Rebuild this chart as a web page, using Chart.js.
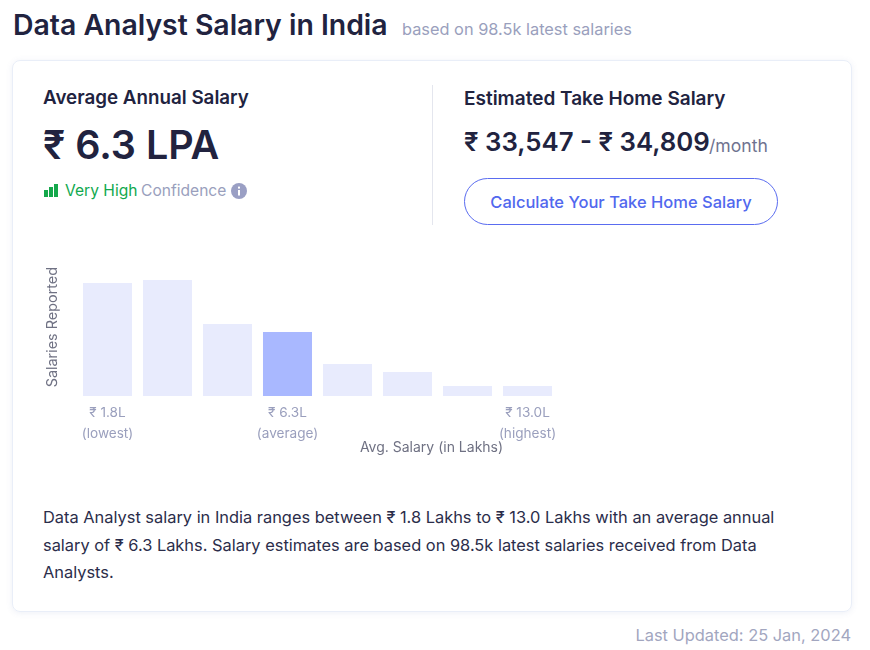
<!DOCTYPE html>
<html>
<head>
<meta charset="utf-8">
<script src="https://cdn.jsdelivr.net/npm/chart.js@4"></script>
<style>
  html, body { margin: 0; padding: 0; background: #fff; width: 870px; height: 650px; overflow: hidden; font-family: Inter, sans-serif; color: #21233f; }
  .t { position: absolute; white-space: nowrap; line-height: 1; }
  .card { position: absolute; left: 12px; top: 60px; width: 838px; height: 550px; border: 1px solid #e9eef8; border-radius: 8px; box-shadow: 0 1px 6px rgba(90,110,180,.10); }
  .divider { position: absolute; left: 432px; top: 85px; width: 1px; height: 140px; background: #e4e6ee; }
  .btn { position: absolute; left: 464px; top: 178px; width: 312px; height: 45px; border: 1px solid #5a6cf0; border-radius: 24px; text-align: center; line-height: 46px; font-size: 16.5px; font-weight: 500; color: #5168ee; }
  #chart-wrap { position: absolute; left: 40px; top: 260px; width: 530px; height: 202px; }
</style>
</head>
<body>
<div class="t" style="left:13px;top:11px;font-size:28.4px;font-weight:600">Data Analyst Salary in India</div>
<div class="t" style="left:402px;top:21px;font-size:16.35px;color:#9a9fbd">based on 98.5k latest salaries</div>

<div class="card"></div>
<div class="divider"></div>

<div class="t" style="left:43px;top:89px;font-size:18.8px;font-weight:600">Average Annual Salary</div>
<div class="t" style="left:43px;top:126px;font-size:39.5px;font-weight:600">₹ 6.3 LPA</div>
<svg style="position:absolute;left:44px;top:184px" width="15" height="13">
  <rect x="0" y="6" width="4" height="7" fill="#14a84b"/><rect x="5" y="3" width="4" height="10" fill="#14a84b"/><rect x="10" y="0" width="4" height="13" fill="#14a84b"/>
</svg>
<div class="t" style="left:65px;top:183px;font-size:15.6px;color:#12a94f">Very High</div>
<div class="t" style="left:141px;top:183px;font-size:15.6px;color:#9a9fbd">Confidence</div>
<svg style="position:absolute;left:231px;top:183px" width="16" height="16">
  <circle cx="8" cy="8" r="8" fill="#9a9fc4"/><rect x="7" y="7" width="2" height="5.5" fill="#fff"/><rect x="7" y="3.6" width="2" height="2" fill="#fff"/>
</svg>

<div class="t" style="left:464px;top:89px;font-size:19px;font-weight:600">Estimated Take Home Salary</div>
<div class="t" style="left:464px;top:129px;font-size:25.8px;font-weight:600">₹ 33,547 - ₹ 34,809</div>
<div class="t" style="left:709px;top:137px;font-size:17.6px;color:#6f7390">/month</div>
<div class="btn">Calculate Your Take Home Salary</div>

<div id="chart-wrap"><canvas id="salary-chart"></canvas></div>

<div class="t" style="left:43px;top:504px;font-size:16.4px;line-height:27.7px;color:#2b2d4a">Data Analyst salary in India ranges between ₹ 1.8 Lakhs to ₹ 13.0 Lakhs with an average annual<br>salary of ₹ 6.3 Lakhs. Salary estimates are based on 98.5k latest salaries received from Data<br>Analysts.</div>
<div class="t" style="right:19px;top:627px;font-size:16.4px;color:#a2a6bf">Last Updated: 25 Jan, 2024</div>

<script>
// ── data ────────────────────────────────────────────────
const tickLabels = [
  ['₹ 1.8L', '(lowest)'], '', '',
  ['₹ 6.3L', '(average)'], '', '', '',
  ['₹ 13.0L', '(highest)']
];
const salariesReported = [113, 116, 72, 64, 32, 24, 10, 10];
const averageIndex = 3;
const yAxisTitle = 'Salaries Reported';
const xAxisTitle = 'Avg. Salary (in Lakhs)';

// axis titles sit off-centre in the original, so they are drawn by hand
const offCentreTitles = {
  id: 'offCentreTitles',
  afterDraw(chart) {
    const { ctx, chartArea } = chart;
    ctx.save();
    ctx.fillStyle = '#6f7183';
    ctx.textAlign = 'center';
    ctx.textBaseline = 'middle';
    ctx.font = '400 14px Inter, sans-serif';
    ctx.fillText(xAxisTitle, chartArea.left + 354, chartArea.bottom + 52);
    ctx.font = '400 14.4px Inter, sans-serif';
    ctx.translate(chartArea.left - 25, chartArea.bottom - 69);
    ctx.rotate(-Math.PI / 2);
    ctx.fillText(yAxisTitle, 0, 0);
    ctx.restore();
  }
};

new Chart(document.getElementById('salary-chart'), {
  type: 'bar',
  data: {
    labels: tickLabels,
    datasets: [{
      data: salariesReported,
      backgroundColor: salariesReported.map((_, i) => i === averageIndex ? '#a9b8ff' : '#e8ebfd'),
      categoryPercentage: 1,
      barPercentage: 0.817
    }]
  },
  options: {
    responsive: true,
    maintainAspectRatio: false,
    animation: false,
    layout: { padding: { left: 37.5, right: 12.5, top: 20, bottom: 12 } },
    plugins: { legend: { display: false }, tooltip: { enabled: false } },
    scales: {
      x: {
        grid: { display: false, drawTicks: false },
        border: { display: false },
        ticks: {
          autoSkip: false,
          maxRotation: 0,
          padding: 6,
          color: '#9a9fbd',
          font: { family: 'Inter', size: 13.6, lineHeight: 1.54 }
        }
      },
      y: { display: false, min: 0, max: 116 }
    }
  },
  plugins: [offCentreTitles]
});
</script>
</body>
</html>
